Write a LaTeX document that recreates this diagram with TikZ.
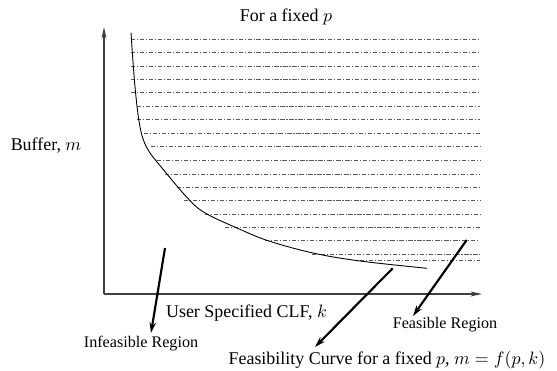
\documentclass[tikz,border=0pt]{standalone}
\usepackage{fontspec}
\setmainfont{Liberation Serif}
\usetikzlibrary{arrows.meta}

\begin{document}
\begin{tikzpicture}[x=0.0196cm,y=-0.0196cm]

% Fix the frame
\useasboundingbox (0,0) rectangle (557,371);

% Define corners of the axes
\coordinate (O) at (104,294);
\coordinate (ytip) at (104,27);
\coordinate (xtip) at (482,294);

% Draw axes
\draw[black!75,line width=0.6pt,-{Stealth[length=6.5pt,width=2.8pt]}] (O) -- (ytip);
\draw[black!75,line width=0.6pt,-{Stealth[length=6.5pt,width=2.8pt]}] (O) -- (xtip);

% Hatch the feasible region (height / left end)
\foreach \y/\xs in {39.3/131,52.7/131,66/131,79.3/131,92.7/131,106/137,119.3/137,
  133.3/144,146.7/151,160/157,174/165,187.3/177,200.7/184,214/205,227.3/225,
  240.7/265,254/312,260.7/360}
  \draw[black!65,line width=0.4pt,dash pattern=on 2.4pt off 1pt on 0.6pt off 1pt] (\xs,\y) -- (480,\y);

% Draw feasibility curve
\draw[line width=0.5pt] plot[smooth,tension=0.6] coordinates {(131,32.7) (135,86.7) (140,126.7)
  (147,148) (162,168) (190,200.7) (207,214) (237,228) (268,240.7) (313,253) (360,261) (427,268.3)};

% Labels
\node (title) at (286,17) {For a fixed $p$};
\node (buffer) at (46,146) {Buffer, $m$};
\node (clf) at (246.5,313.5) {User Specified CLF, $k$};
\node[font=\small] (infeas) at (141,344) {Infeasible Region};
\node[font=\small] (feas) at (445,324.5) {Feasible Region};
\node (fcurve) at (387,360.5) {Feasibility Curve for a fixed $p$, $m=f(p,k)$};

% Pointer ends
\coordinate (infeasA) at (165,248);
\coordinate (infeasB) at (151,333);
\coordinate (curveA) at (392.7,268.3);
\coordinate (curveB) at (315,347);
\coordinate (feasA) at (466.7,240);
\coordinate (feasB) at (413,316);

% Pointers
\draw[line width=1.2pt,-{Stealth[length=6pt,width=3.6pt]}] (infeasA) -- (infeasB);
\draw[line width=1.2pt,-{Stealth[length=6pt,width=3.6pt]}] (curveA) -- (curveB);
\draw[line width=1.2pt,-{Stealth[length=6pt,width=3.6pt]}] (feasA) -- (feasB);

\end{tikzpicture}
\end{document}
